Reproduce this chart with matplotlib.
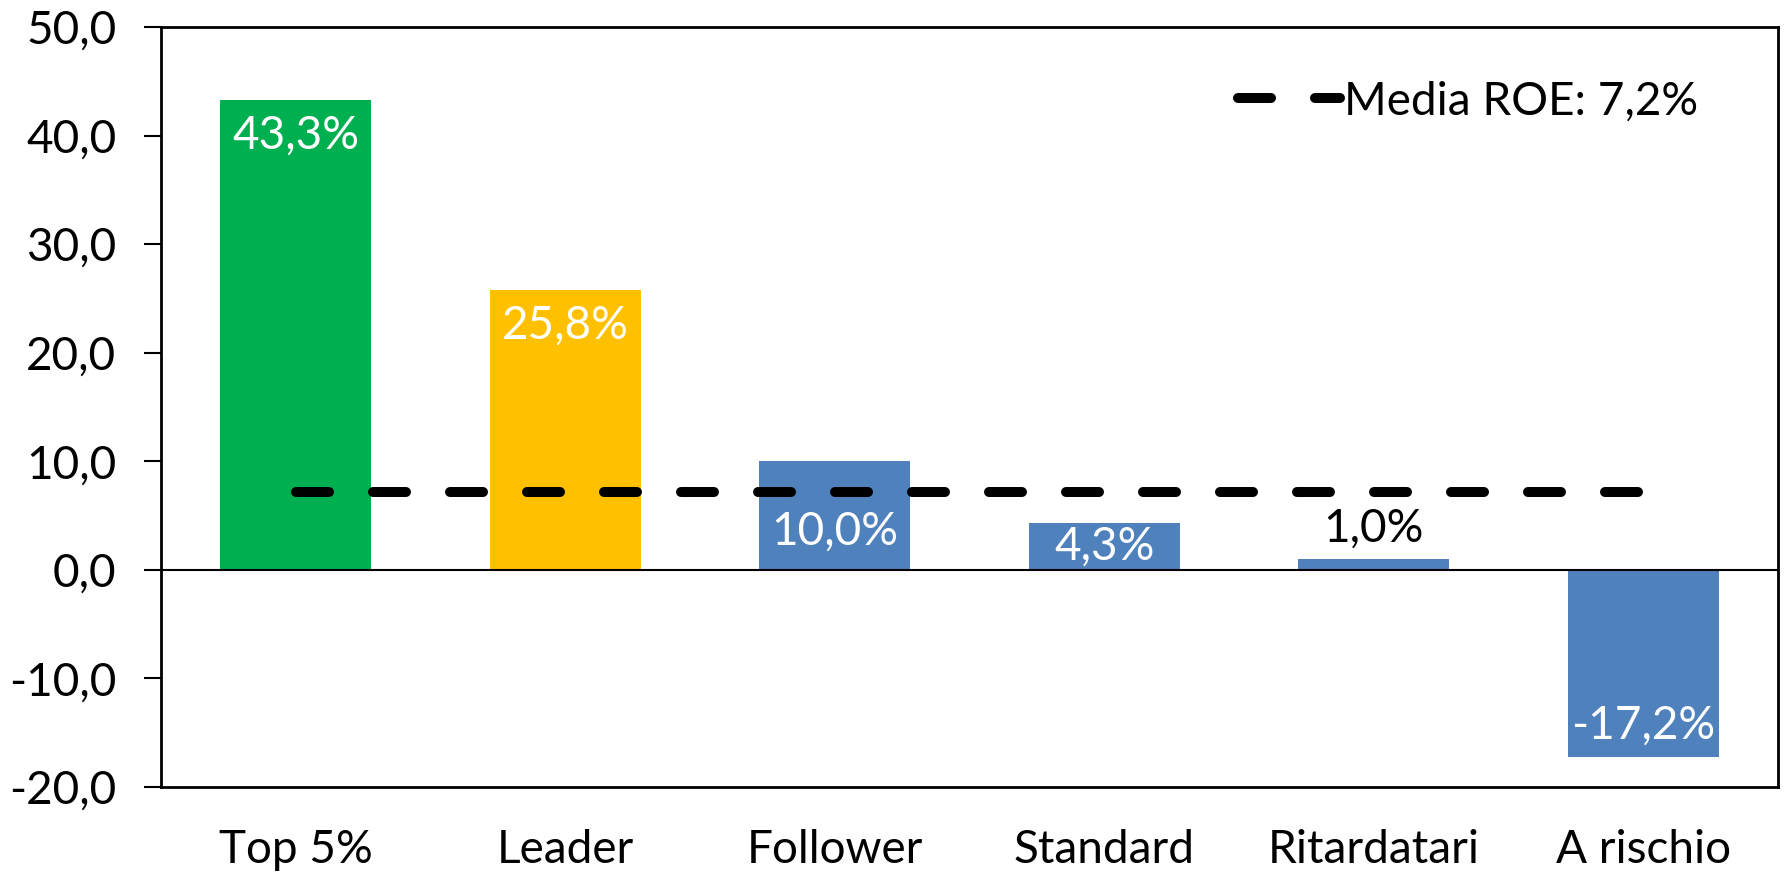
import matplotlib
matplotlib.use("Agg")
import matplotlib.pyplot as plt
from matplotlib.ticker import FuncFormatter

plt.rcParams["font.family"] = ["Lato", "DejaVu Sans"]

categories = ["Top 5%", "Leader", "Follower", "Standard", "Ritardatari", "A rischio"]
roe = [43.3, 25.8, 10.0, 4.3, 1.0, -17.2]
colors = ["#00B050", "#FFC000", "#4F81BD", "#4F81BD", "#4F81BD", "#4F81BD"]
media_roe = 7.2
yticks = [-20, -10, 0, 10, 20, 30, 40, 50]

FS = 33


def it_num(v, decimals=1):
    return f"{v:.{decimals}f}".replace(".", ",")


fig = plt.figure(figsize=(17.86, 8.76), dpi=100)
ax = fig.add_axes([0.0901, 0.1016, 0.9054, 0.8676])

x = list(range(len(categories)))
ax.bar(x, roe, width=0.56, color=colors, zorder=2)
ax.axhline(0, color="black", lw=1.5, zorder=3)

ax.plot([x[0], x[-1]], [media_roe, media_roe], color="black", lw=7.2,
        dashes=(3.3, 4.4), dash_capstyle="round", zorder=4,
        label=f"Media ROE: {it_num(media_roe)}%")

# value labels (Excel "inside end", small bar outside)
for xi, v in zip(x, roe):
    txt = it_num(v) + "%"
    kw = dict(ha="center", va="center", color="white", fontsize=FS, zorder=5)
    if v < 0:
        ax.annotate(txt, (xi, v), xytext=(0, 22), textcoords="offset points", **kw)
    elif v < 2:
        kw["color"] = "black"
        ax.annotate(txt, (xi, v), xytext=(0, 22), textcoords="offset points", **kw)
    elif v < 8:
        ax.annotate(txt, (xi, v / 2), **kw)
    elif v < 15:
        ax.annotate(txt, (xi, v), xytext=(0, -51), textcoords="offset points", **kw)
    else:
        ax.annotate(txt, (xi, v), xytext=(0, -26), textcoords="offset points", **kw)

ax.set_xlim(-0.5, 5.5)
ax.set_ylim(-20, 50)
ax.set_yticks(yticks)
ax.yaxis.set_major_formatter(FuncFormatter(lambda v, p: it_num(v)))
ax.set_xticks(x)
ax.set_xticklabels(categories)
ax.tick_params(axis="x", length=0, pad=30, labelsize=FS)
ax.tick_params(axis="y", direction="out", length=12, width=1.5, pad=20, labelsize=FS)
for s in ax.spines.values():
    s.set_color("black")
    s.set_linewidth(2)

ax.legend(loc="center right", bbox_to_anchor=(0.962, 0.902), frameon=False,
          fontsize=FS, handlelength=2.24, handletextpad=0.08, borderaxespad=0)

fig.savefig("out.png", dpi=100)
